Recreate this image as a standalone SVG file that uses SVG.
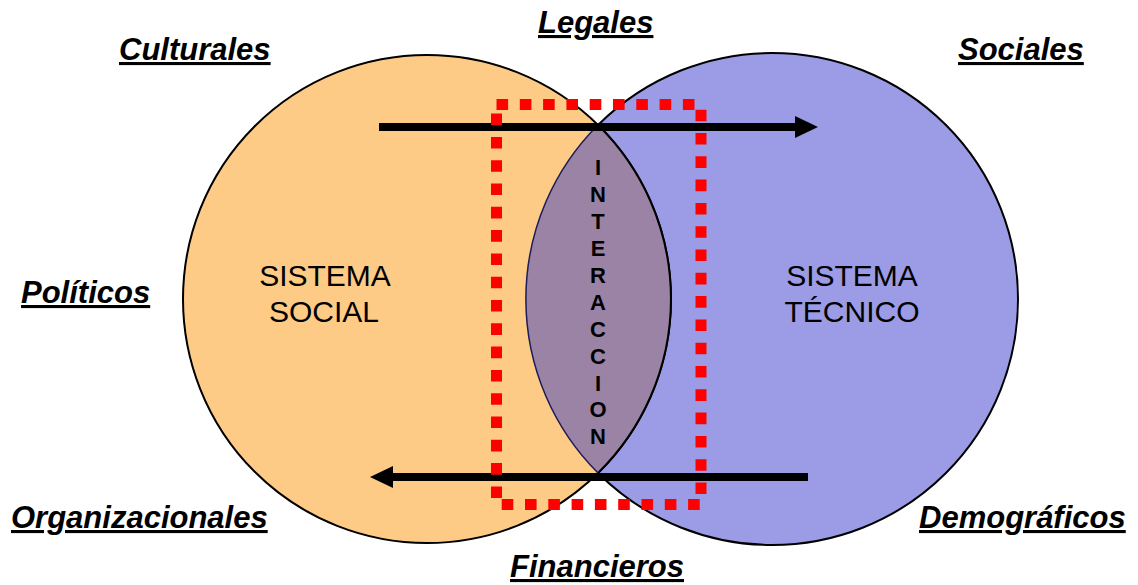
<svg xmlns="http://www.w3.org/2000/svg" width="1138" height="585" viewBox="0 0 1138 585">
  <style>
    .factor { font-family: "Liberation Sans", Arial, sans-serif; font-size: 31px; font-weight: bold; font-style: italic; fill: #000; text-decoration: underline; text-decoration-thickness: 4px; text-underline-offset: 5px; }
    .system { font-family: "Liberation Sans", Arial, sans-serif; font-size: 30px; fill: #000; text-anchor: middle; }
    .vert { font-family: "Liberation Sans", Arial, sans-serif; font-size: 22px; font-weight: bold; fill: #000; text-anchor: middle; }
    .arrow-line { stroke: #000; stroke-width: 8; fill: none; }
  </style>

  <rect width="1138" height="585" fill="#ffffff"/>

  <!-- technical system (right circle) -->
  <g id="sistema-tecnico">
    <circle cx="772" cy="299" r="246" fill="#9b9be6" stroke="#000" stroke-width="2"/>
    <text class="system" x="852" y="286">SISTEMA</text>
    <text class="system" x="852" y="322">TÉCNICO</text>
  </g>

  <!-- social system (left circle) -->
  <g id="sistema-social">
    <circle cx="427" cy="299" r="244" fill="#fecb86" stroke="#000" stroke-width="2"/>
    <text class="system" x="325" y="286">SISTEMA</text>
    <text class="system" x="324" y="322">SOCIAL</text>
  </g>

  <!-- overlap lens -->
  <g id="interaccion">
    <path d="M598 125 A244 244 0 0 1 598 473 A246 246 0 0 1 598 125 Z" fill="#9b83a6"/>
    <path d="M598 125 A244 244 0 0 1 598 473" fill="none" stroke="#000" stroke-width="2"/>
    <path d="M598 473 A246 246 0 0 1 598 125" fill="none" stroke="#1c1c5c" stroke-width="1.5"/>
    <text class="vert" x="598" y="175">I</text>
    <text class="vert" x="598" y="202">N</text>
    <text class="vert" x="598" y="229">T</text>
    <text class="vert" x="598" y="256">E</text>
    <text class="vert" x="598" y="283">R</text>
    <text class="vert" x="598" y="310">A</text>
    <text class="vert" x="598" y="337">C</text>
    <text class="vert" x="598" y="364">C</text>
    <text class="vert" x="598" y="391">I</text>
    <text class="vert" x="598" y="417">O</text>
    <text class="vert" x="598" y="444">N</text>
  </g>

  <!-- flow arrows -->
  <g id="connectors">
    <line class="arrow-line" x1="379" y1="127" x2="797" y2="127"/>
    <polygon points="795,116 818,127 795,138" fill="#000"/>
    <line class="arrow-line" x1="808" y1="477" x2="391" y2="477"/>
    <polygon points="393,466 370,477 393,488" fill="#000"/>
  </g>

  <!-- dotted boundary of the interaction zone -->
  <g id="zona-interaccion">
    <rect x="496.5" y="104.5" width="204.5" height="400" fill="none" stroke="#ff0000" stroke-width="11" stroke-dasharray="11.6 11.7"/>
  </g>

  <!-- environmental factors -->
  <g id="factores">
    <text class="factor" x="538" y="33">Legales</text>
    <text class="factor" x="119" y="60">Culturales</text>
    <text class="factor" x="958" y="60">Sociales</text>
    <text class="factor" x="21" y="303">Políticos</text>
    <text class="factor" x="11" y="528">Organizacionales</text>
    <text class="factor" x="919" y="528">Demográficos</text>
    <text class="factor" x="510" y="577">Financieros</text>
  </g>
</svg>
